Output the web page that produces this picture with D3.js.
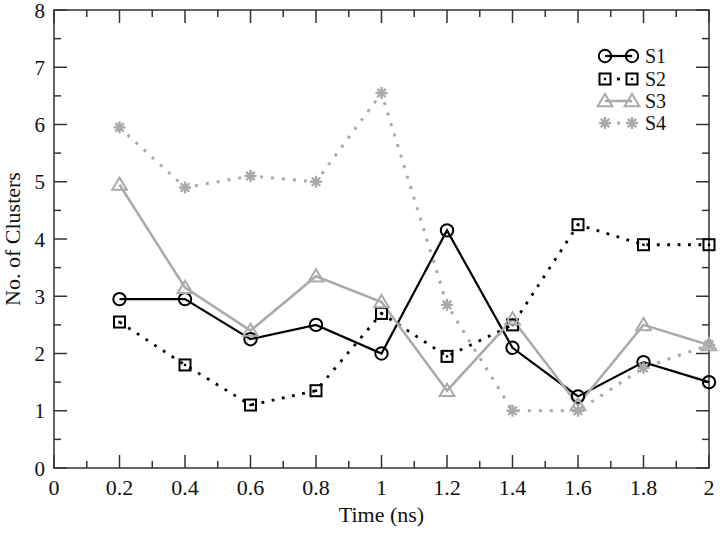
<!DOCTYPE html>
<html><head><meta charset="utf-8">
<script src="https://cdn.jsdelivr.net/npm/d3@7"></script>
<style>body{margin:0;background:#fff}svg{display:block}text{font-family:"Liberation Serif","Times New Roman",serif}</style>
</head><body><svg id="c" width="720" height="533"></svg>
<script>
const times = [0.2,0.4,0.6,0.8,1.0,1.2,1.4,1.6,1.8,2.0];
const s1 = [2.95,2.95,2.25,2.5,2.0,4.15,2.1,1.25,1.85,1.5];
const s2 = [2.55,1.8,1.1,1.35,2.7,1.95,2.5,4.25,3.9,3.9];
const s3 = [4.95,3.15,2.4,3.35,2.9,1.35,2.6,1.1,2.5,2.15];
const s4 = [5.95,4.9,5.1,5.0,6.55,2.85,1.0,1.0,1.75,2.15];
const seriesNames = ["S1","S2","S3","S4"];
const xTicks = [0,0.2,0.4,0.6,0.8,1,1.2,1.4,1.6,1.8,2];
const yTicks = [0,1,2,3,4,5,6,7,8];

const svg = d3.select("#c");
const L=54, R=709, T=10, B=468;
const x = d3.scaleLinear().domain([0,2]).range([L,R]);
const y = d3.scaleLinear().domain([0,8]).range([B,T]);
const gray="#aaaaaa", axc="#333";

const styles = [
 {data:s1,color:"#000",dash:null,marker:"circle",w:2.2},
 {data:s2,color:"#000",dash:"2.8,7.6",marker:"square",w:2.8},
 {data:s3,color:gray,dash:null,marker:"triangle",w:2.6},
 {data:s4,color:gray,dash:"3,8",marker:"star",w:3}
];

function marker(g,type,cx,cy,color){
  if(type==="circle"){
    g.append("circle").attr("cx",cx).attr("cy",cy).attr("r",6.2).attr("fill","none").attr("stroke",color).attr("stroke-width",2);
  } else if(type==="square"){
    g.append("rect").attr("x",cx-5.5).attr("y",cy-5.5).attr("width",11).attr("height",11).attr("fill","none").attr("stroke",color).attr("stroke-width",2);
    g.append("rect").attr("x",cx-1.2).attr("y",cy-1.2).attr("width",2.4).attr("height",2.4).attr("fill",color);
  } else if(type==="triangle"){
    const s=7;
    g.append("path").attr("d",`M${cx},${cy-s}L${cx+s*1.05},${cy+s*0.75}L${cx-s*1.05},${cy+s*0.75}Z`).attr("fill","none").attr("stroke",color).attr("stroke-width",2);
  } else if(type==="star"){
    const r=6;
    let d="";
    for(let k=0;k<4;k++){const a=k*Math.PI/4;d+=`M${cx-r*Math.cos(a)},${cy-r*Math.sin(a)}L${cx+r*Math.cos(a)},${cy+r*Math.sin(a)}`;}
    g.append("path").attr("d",d).attr("stroke",color).attr("stroke-width",2.4).attr("fill","none");
  }
}

// frame
svg.append("rect").attr("x",L).attr("y",T).attr("width",R-L).attr("height",B-T).attr("fill","none").attr("stroke",axc).attr("stroke-width",1.5);

// ticks
const tg = svg.append("g").attr("stroke",axc).attr("stroke-width",1.5);
const xMinor = d3.range(0,2.0001,0.1);
xMinor.forEach((v,i)=>{
  const len = (i%2===0)?13:7; const px=x(v);
  tg.append("line").attr("x1",px).attr("x2",px).attr("y1",B).attr("y2",B-len);
  tg.append("line").attr("x1",px).attr("x2",px).attr("y1",T).attr("y2",T+len);
});
const yMinor = d3.range(0,8.0001,0.5);
yMinor.forEach((v,i)=>{
  const len = (i%2===0)?13:7; const py=y(v);
  tg.append("line").attr("x1",L).attr("x2",L+len).attr("y1",py).attr("y2",py);
  tg.append("line").attr("x1",R).attr("x2",R-len).attr("y1",py).attr("y2",py);
});

// tick labels
svg.append("g").selectAll("text").data(xTicks).join("text")
 .attr("x",d=>x(d)).attr("y",495).attr("text-anchor","middle").attr("font-size",22).attr("fill","#111").text(d=>d);
svg.append("g").selectAll("text").data(yTicks).join("text")
 .attr("x",45).attr("y",d=>y(d)+7.5).attr("text-anchor","end").attr("font-size",21).attr("fill","#111").text(d=>d);

// axis titles
svg.append("text").attr("x",(L+R)/2).attr("y",522).attr("text-anchor","middle").attr("font-size",22).attr("fill","#111").text("Time (ns)");
svg.append("text").attr("transform",`translate(20,${(T+B)/2}) rotate(-90)`).attr("text-anchor","middle").attr("font-size",22).attr("fill","#111").text("No. of Clusters");

// lines
const line = d3.line().x((d,i)=>x(times[i])).y(d=>y(d));
styles.forEach(st=>{
  svg.append("path").datum(st.data).attr("d",line).attr("fill","none").attr("stroke",st.color)
    .attr("stroke-width",st.w).attr("stroke-dasharray",st.dash).attr("stroke-linecap","butt").attr("stroke-linejoin","miter");
});
styles.forEach(st=>{
  const g=svg.append("g");
  st.data.forEach((v,i)=>marker(g,st.marker,x(times[i]),y(v),st.color));
});

// legend
const legY=[56,79,101,123];
styles.forEach((st,i)=>{
  const g=svg.append("g");
  const yy=legY[i];
  g.append("line").attr("x1",605).attr("x2",632).attr("y1",yy).attr("y2",yy).attr("stroke",st.color).attr("stroke-width",st.w)
    .attr("stroke-dasharray",st.dash?"3,30":null).attr("stroke-dashoffset",st.dash?-12:0).attr("stroke-linecap","butt");
  marker(g,st.marker,605,yy,st.color);
  marker(g,st.marker,632,yy,st.color);
  g.append("text").attr("x",645).attr("y",yy+7).attr("font-size",20).attr("fill","#111").text(seriesNames[i]);
});
</script></body></html>
